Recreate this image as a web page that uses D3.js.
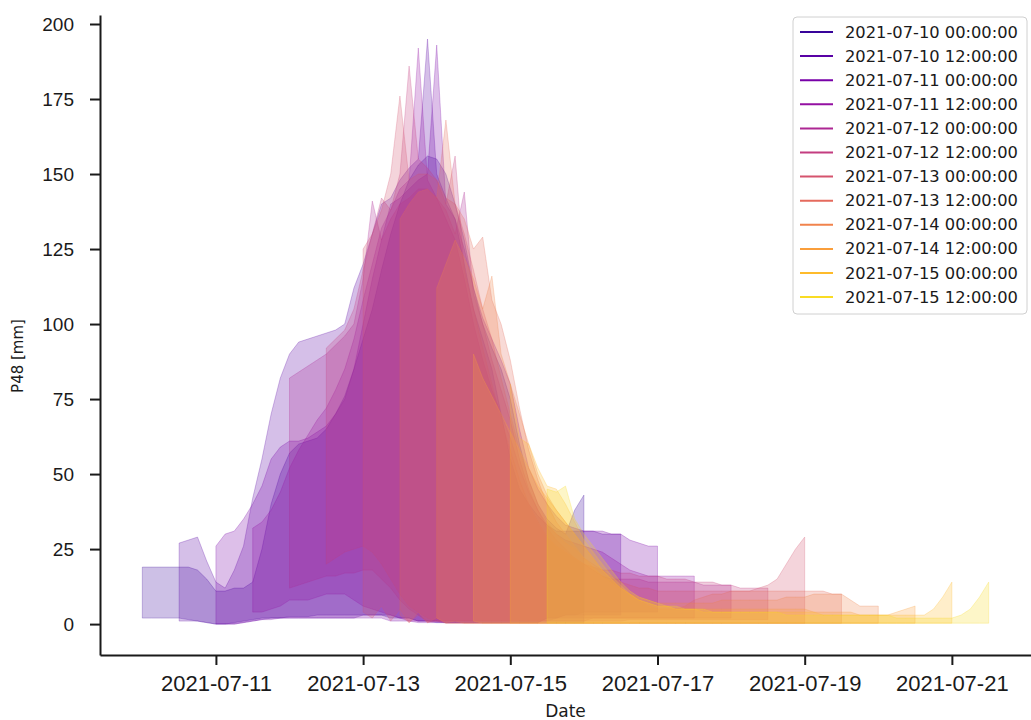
<!DOCTYPE html>
<html>
<head>
  <script src="https://d3js.org/d3.v7.min.js"></script>
  <style>
    body { margin: 0; background: #fff; }
    svg { font-family: "DejaVu Sans", sans-serif; }
    .axis path, .axis line { stroke: #1a1a1a; stroke-width: 2px; }
    .axis text { fill: #1a1a1a; }
  </style>
</head>
<body>
<svg width="1031" height="720"></svg>
<script>
// forecast init times (each band = ensemble min/max of P48, 3-hourly, 6 days)
var initTimes = ["2021-07-10 00:00:00", "2021-07-10 12:00:00", "2021-07-11 00:00:00",
  "2021-07-11 12:00:00", "2021-07-12 00:00:00", "2021-07-12 12:00:00",
  "2021-07-13 00:00:00", "2021-07-13 12:00:00", "2021-07-14 00:00:00",
  "2021-07-14 12:00:00", "2021-07-15 00:00:00", "2021-07-15 12:00:00"];
var stepHours = 3;

var upper0 = [19,19,19,19,19,19,18,15,11,11,12,12,14,25,40,50,57,60,61,62,65,70,76,85,95,105,118,130,140,148,153,156,155,150,140,128,112,100,92,85,75,60,48,40,35,32,30,38,43];
var lower0 = [2,2,2,2,2,1.5,1,0.5,0,0,0.5,1,1.5,2,2,2,2.5,2.5,2.5,3,3,3,3,3,3,3,3,2,2,2,1,1,0.5,0.5,0.5,0.5,0.5,0.5,0.5,0.5,0.5,0.5,0.5,0.5,0.5,0.5,0.5,0.5,0.5];
var upper1 = [27,28,29,21,14,12,18,26,42,55,70,82,90,94,95,96,97,98,100,112,120,130,140,142,148,152,155,195,150,142,135,120,105,95,85,70,55,45,40,36,33,31,31,31,31,31,30,30,30];
var lower1 = [1,1,1,0.5,0,0,0,0.5,1,1.5,2,2,2,2,2,2,2,2,2,2,3,3,3,3,2,2,1,1,1,0.5,0.5,0.5,0.5,0.5,0.5,0.5,0.5,0.5,0.5,0.5,2,2,3,3,3,3,3,3,3];
var upper2 = [26,30,31,35,40,46,55,59,61,61,62,64,66,70,75,85,100,115,128,140,142,145,148,150,193,140,135,125,112,102,95,88,80,65,52,45,40,36,33,32,31,31,31,30,30,28,27,26,26];
var lower2 = [0,0,0,0.5,1,1.5,1.5,2,2,2,2,2,2,2,2,2,2,2,2,1,1,1,0.5,0.5,0.5,0.5,0.5,0.5,0.5,0.5,0.5,0.5,0.5,0.5,0.5,0.5,2,2,3,3,4,4,4,4,4,4,4,4,4];
var upper3 = [32,34,38,44,52,58,63,68,72,78,85,95,108,120,132,138,145,148,192,148,142,135,128,115,100,88,78,70,62,52,44,38,33,30,28,27,26,25,24,22,20,18,17,16,16,16,16,16,16];
var lower3 = [4,4,5,6,8,8,8,9,10,10,10,8,6,5,4,3,2,1,1,1,1,1,1,1,1,1,1,1,1,1,1,1,1,2,2,2,2,2,2,2,2,2,2,2,2,2,2,2,2];
var upper4 = [82,84,86,88,90,93,96,100,115,141,128,135,140,142,145,145,142,138,130,144,110,100,88,78,68,55,45,38,32,28,25,22,20,18,16,15,15,15,15,14,14,14,14,14,14,13,13,13,13];
var lower4 = [12,13,14,15,16,16,17,17,18,18,15,12,8,5,3,1,1,1,1,1,1,1,1,1,1,1,1,1,1,1,1,1,1,2,2,2,2,2,2,2,2,2,2,2,2,2,2,2,2];
var upper5 = [92,95,98,105,118,130,142,138,150,186,155,152,148,140,156,118,105,92,80,68,58,48,40,34,29,26,24,22,20,19,18,18,17,17,16,16,16,15,15,15,14,14,14,13,13,12,12,12,12];
var lower5 = [20,22,24,25,26,24,20,15,10,6,4,2,1,1,1,1,1,1,1,1,1,1,1,1,1,1,1,1,1,1,1,1,1,1.5,1.5,1.5,1.5,1.5,1.5,1.5,1.5,1.5,1.5,1.5,1.5,1.5,1.5,1.5,1.5];
var upper6 = [125,130,138,150,176,148,150,150,148,142,140,130,118,105,95,82,70,58,48,40,34,30,27,25,22,20,18,16,14,13,12,12,11,11,11,11,11,11,11,11,11,11,11,12,13,15,20,25,29];
var lower6 = [4,2,6,1,5,0.5,3,0.5,1,0.3,0.3,0.3,0.3,0.3,0.3,0.3,0.3,0.3,0.3,0.3,0.3,0.3,0.3,0.3,0.3,0.3,0.3,0.3,0.3,0.3,0.3,0.3,0.3,0.3,0.3,0.3,0.3,0.3,0.3,0.3,0.3,0.3,0.3,0.3,0.3,0.3,0.3,0.3,0.3];
var upper7 = [135,140,144,145,142,168,140,135,125,129,108,100,88,72,58,48,40,34,30,26,22,19,16,14,12,10,8,6,5,5,5,6,8,9,10,10,11,11,11,11,11,11,11,11,11,11,11,10,10];
var lower7 = [3,0.5,4,0.5,2,0.3,0.3,0.3,0.3,0.3,0.3,0.3,0.3,0.3,0.3,0.3,0.3,0.3,0.3,0.3,0.3,0.3,0.3,0.3,0.3,0.3,0.3,0.3,0.3,0.3,0.3,0.3,0.3,0.3,0.3,0.3,0.3,0.3,0.3,0.3,0.3,0.3,0.3,0.3,0.3,0.3,0.3,0.3,0.3];
var upper8 = [112,120,128,122,115,105,116,90,80,70,60,50,43,38,34,30,26,22,18,15,12,10,9,8,7,7,7,7,7,7,7,8,8,8,8,8,8,8,9,9,9,10,10,10,10,8,6,6,6];
var lower8 = [2,0.5,1,0.3,0.3,0.3,0.3,0.3,0.3,0.3,0.3,0.3,0.3,0.3,0.3,0.3,0.3,0.3,0.3,0.3,0.3,0.3,0.3,0.3,0.3,0.3,0.3,0.3,0.3,0.3,0.3,0.3,0.3,0.3,0.3,0.3,0.3,0.3,0.3,0.3,0.3,0.3,0.3,0.3,0.3,0.3,0.3,0.3,0.3];
var upper9 = [90,82,76,70,64,58,52,46,42,38,34,30,26,22,18,15,12,10,8,7,6,6,5,5,5,5,5,5,5,5,5,5,5,5,5,5,5,4,4,4,4,4,3,3,3,3,4,5,6];
var lower9 = [1,0.3,0.3,0.3,0.3,0.3,0.3,0.3,0.3,0.3,0.3,0.3,0.3,0.3,0.3,0.3,0.3,0.3,0.3,0.3,0.3,0.3,0.3,0.3,0.3,0.3,0.3,0.3,0.3,0.3,0.3,0.3,0.3,0.3,0.3,0.3,0.3,0.3,0.3,0.3,0.3,0.3,0.3,0.3,0.3,0.3,0.3,0.3,0.3];
var upper10 = [80,62,60,52,46,45,40,34,28,24,20,16,13,10,8,7,6,6,5,5,5,4,4,4,4,4,4,4,4,4,4,4,4,4,3,3,3,3,3,3,3,3,3,3,3,3,5,9,14];
var lower10 = [0.3,0.3,0.3,0.3,0.3,0.3,0.3,0.3,0.3,0.3,0.3,0.3,0.3,0.3,0.3,0.3,0.3,0.3,0.3,0.3,0.3,0.3,0.3,0.3,0.3,0.3,0.3,0.3,0.3,0.3,0.3,0.3,0.3,0.3,0.3,0.3,0.3,0.3,0.3,0.3,0.3,0.3,0.3,0.3,0.3,0.3,0.3,0.3,0.3];
var upper11 = [45,44,46,35,30,26,22,18,14,11,9,8,7,6,6,5,5,5,4,4,4,4,4,4,4,4,3,3,3,3,3,3,3,3,3,3,3,3,2,2,2,2,2,2,2,3,5,9,14];
var lower11 = [0.3,0.3,0.3,0.3,0.3,0.3,0.3,0.3,0.3,0.3,0.3,0.3,0.3,0.3,0.3,0.3,0.3,0.3,0.3,0.3,0.3,0.3,0.3,0.3,0.3,0.3,0.3,0.3,0.3,0.3,0.3,0.3,0.3,0.3,0.3,0.3,0.3,0.3,0.3,0.3,0.3,0.3,0.3,0.3,0.3,0.3,0.3,0.3,0.3];

var uppers = [upper0, upper1, upper2, upper3, upper4, upper5, upper6, upper7, upper8, upper9, upper10, upper11];
var lowers = [lower0, lower1, lower2, lower3, lower4, lower5, lower6, lower7, lower8, lower9, lower10, lower11];
var xTickDates = ["2021-07-11", "2021-07-13", "2021-07-15", "2021-07-17", "2021-07-19", "2021-07-21"];
var yTicks = [0, 25, 50, 75, 100, 125, 150, 175, 200];

var parseInit = d3.utcParse("%Y-%m-%d %H:%M:%S"),
  parseDay = d3.utcParse("%Y-%m-%d");

var svg = d3.select("svg"),
  margin = {top: 15, right: 0, bottom: 65, left: 100},
  width = +svg.attr("width") - margin.left - margin.right,
  height = +svg.attr("height") - margin.top - margin.bottom;

var x = d3.scaleUtc()
  .domain([parseInit("2021-07-09 10:12:00"), parseInit("2021-07-22 01:48:00")])
  .range([0, width]);
var y = d3.scaleLinear().domain([-10.3, 203]).range([height, 0]);

// plasma colours, sampled like the legend
function bandColor(i) {
  return d3.interpolatePlasma(0.08 + i * 0.85 / 11);
}

var g = svg.append("g")
  .attr("transform", "translate(" + margin.left + "," + margin.top + ")");

var area = d3.area()
  .x(function(d) { return x(d.time); })
  .y0(function(d) { return y(d.lo); })
  .y1(function(d) { return y(d.hi); });

initTimes.forEach(function(t, i) {
  var t0 = parseInit(t);
  var color = bandColor(i);
  var data = uppers[i].map(function(v, k) {
    return {
      time: new Date(t0.getTime() + k * stepHours * 3600 * 1000),
      lo: lowers[i][k],
      hi: v
    };
  });
  g.append("path")
    .datum(data)
    .attr("d", area)
    .attr("fill", color)
    .attr("fill-opacity", 0.25)
    .attr("stroke", color)
    .attr("stroke-opacity", 0.25)
    .attr("stroke-width", 1);
});

// axes
var xAxis = d3.axisBottom(x)
  .tickValues(xTickDates.map(parseDay))
  .tickFormat(d3.utcFormat("%Y-%m-%d"))
  .tickSizeInner(10)
  .tickSizeOuter(0)
  .tickPadding(10);
var yAxis = d3.axisLeft(y)
  .tickValues(yTicks)
  .tickSizeInner(10)
  .tickSizeOuter(0)
  .tickPadding(16);

g.append("g")
  .attr("class", "axis")
  .attr("transform", "translate(0," + height + ")")
  .call(xAxis)
  .selectAll("text").style("font-size", "22px");

g.append("g")
  .attr("class", "axis")
  .call(yAxis)
  .selectAll("text").style("font-size", "19px");

svg.append("text")
  .attr("x", margin.left + width / 2)
  .attr("y", 717)
  .attr("text-anchor", "middle")
  .style("font-size", "17px")
  .attr("fill", "#1a1a1a")
  .text("Date");

svg.append("text")
  .attr("transform", "translate(23,356) rotate(-90)")
  .attr("text-anchor", "middle")
  .style("font-size", "15px")
  .attr("fill", "#1a1a1a")
  .text("P48 [mm]");

// legend
var legend = svg.append("g").attr("transform", "translate(793,17)");
legend.append("rect")
  .attr("width", 234)
  .attr("height", 297)
  .attr("rx", 4)
  .attr("fill", "#fff")
  .attr("fill-opacity", 0.8)
  .attr("stroke", "#d0d0d0");

initTimes.forEach(function(t, i) {
  var ry = 15 + i * 24.1;
  legend.append("line")
    .attr("x1", 7).attr("x2", 40)
    .attr("y1", ry).attr("y2", ry)
    .attr("stroke", bandColor(i))
    .attr("stroke-width", 2);
  legend.append("text")
    .attr("x", 52)
    .attr("y", ry + 5.5)
    .style("font-size", "16.3px")
    .attr("fill", "#1a1a1a")
    .text(t);
});
</script>
</body>
</html>
